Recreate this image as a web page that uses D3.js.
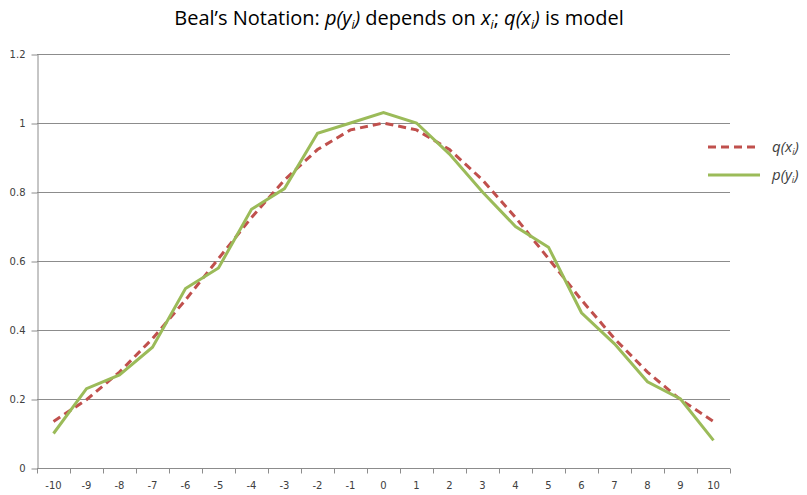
<!DOCTYPE html>
<html>
<head>
<meta charset="utf-8">
<script src="https://cdn.jsdelivr.net/npm/d3@7"></script>
<style>
  body { margin: 0; background: #fff; }
</style>
</head>
<body>
<div class="vis"></div>
<script>
// categories along x
var xCats = [-10, -9, -8, -7, -6, -5, -4, -3, -2, -1, 0, 1, 2, 3, 4, 5, 6, 7, 8, 9, 10];
// q(x_i) model, dashed red
var qValues = [0.135, 0.198, 0.278, 0.375, 0.487, 0.607, 0.726, 0.835, 0.923, 0.980, 1.0,
               0.980, 0.923, 0.835, 0.726, 0.607, 0.487, 0.375, 0.278, 0.198, 0.135];
// p(y_i) observed, green
var pValues = [0.10, 0.23, 0.27, 0.35, 0.52, 0.58, 0.75, 0.81, 0.97, 1.00, 1.03,
               1.00, 0.91, 0.80, 0.70, 0.64, 0.45, 0.36, 0.25, 0.20, 0.08];
var yTicks = [0, 0.2, 0.4, 0.6, 0.8, 1, 1.2];

(function(){
  var W = 807, H = 495;
  var m = {left: 37, right: 730, top: 54, bottom: 468};

  var svg = d3.select(".vis").append("svg")
    .attr("width", W).attr("height", H);

  var x = d3.scaleBand().domain(xCats).range([m.left, m.right]);
  var y = d3.scaleLinear().domain([0, 1.2]).range([m.bottom, m.top]);

  // gridlines
  svg.append("g").selectAll("line")
    .data(yTicks.slice(1))
    .enter().append("line")
      .attr("x1", m.left).attr("x2", m.right)
      .attr("y1", function(d){ return Math.round(y(d)) + 0.5; })
      .attr("y2", function(d){ return Math.round(y(d)) + 0.5; })
      .attr("stroke", "#8c8c8c").attr("stroke-width", 1);

  // y axis
  var yAxis = svg.append("g")
    .attr("transform", "translate(" + (m.left + 0.5) + ",0.5)")
    .call(d3.axisLeft(y).tickValues(yTicks).tickSize(6).tickSizeOuter(0).tickPadding(6)
      .tickFormat(function(d){ return d3.format("")(d); }));
  yAxis.select(".domain").attr("stroke", "#8c8c8c");
  yAxis.selectAll(".tick line").attr("stroke", "#8c8c8c");
  yAxis.selectAll("text").attr("font-family", "DejaVu Sans").attr("font-size", 10).attr("fill", "#404040");

  // x axis with ticks at band edges
  var xAxisG = svg.append("g").attr("transform", "translate(0," + (m.bottom + 0.5) + ")");
  xAxisG.append("line").attr("x1", m.left).attr("x2", m.right)
    .attr("stroke", "#8c8c8c");
  xAxisG.selectAll(".edge")
    .data(xCats.concat(["end"]))
    .enter().append("line")
      .attr("class", "edge")
      .attr("x1", function(d, i){ return Math.round(m.left + i * x.step()) + 0.5; })
      .attr("x2", function(d, i){ return Math.round(m.left + i * x.step()) + 0.5; })
      .attr("y1", 0).attr("y2", 5)
      .attr("stroke", "#8c8c8c");
  xAxisG.selectAll("text")
    .data(xCats)
    .enter().append("text")
      .attr("x", function(d){ return x(d) + x.bandwidth() / 2; })
      .attr("y", 20)
      .attr("text-anchor", "middle")
      .attr("font-family", "DejaVu Sans").attr("font-size", 10)
      .attr("fill", "#404040")
      .text(function(d){ return d; });

  var line = d3.line()
    .x(function(d, i){ return x(xCats[i]) + x.bandwidth() / 2; })
    .y(function(d){ return y(d); });

  svg.append("path").datum(qValues)
    .attr("d", line)
    .attr("fill", "none")
    .attr("stroke", "#C0504D")
    .attr("stroke-width", 3)
    .attr("stroke-dasharray", "8,5");

  svg.append("path").datum(pValues)
    .attr("d", line)
    .attr("fill", "none")
    .attr("stroke", "#9BBB59")
    .attr("stroke-width", 3);

  // title
  var title = svg.append("text")
    .attr("x", 399).attr("y", 25)
    .attr("text-anchor", "middle")
    .attr("font-family", "Open Sans").attr("font-size", 20)
    .attr("fill", "#000");
  title.append("tspan").text("Beal\u2019s Notation: ");
  title.append("tspan").attr("font-style", "italic").text("p(y");
  title.append("tspan").attr("font-style", "italic").attr("font-size", 12).attr("dy", 4).text("i");
  title.append("tspan").attr("font-style", "italic").attr("dy", -4).text(")");
  title.append("tspan").text(" depends on ");
  title.append("tspan").attr("font-style", "italic").text("x");
  title.append("tspan").attr("font-style", "italic").attr("font-size", 12).attr("dy", 4).text("i");
  title.append("tspan").attr("dy", -4).text("; ");
  title.append("tspan").attr("font-style", "italic").text("q(x");
  title.append("tspan").attr("font-style", "italic").attr("font-size", 12).attr("dy", 4).text("i");
  title.append("tspan").attr("font-style", "italic").attr("dy", -4).text(")");
  title.append("tspan").text(" is model");

  // legend
  var legendItems = [
    {name: "q", sub: "x", color: "#C0504D", dash: "8,5"},
    {name: "p", sub: "y", color: "#9BBB59", dash: null}
  ];
  var legend = svg.append("g").attr("transform", "translate(708,147)");
  legendItems.forEach(function(d, i){
    var g = legend.append("g").attr("transform", "translate(0," + (i * 28) + ")");
    g.append("line").attr("x1", 0).attr("x2", 52).attr("y1", 0).attr("y2", 0)
      .attr("stroke", d.color).attr("stroke-width", 3)
      .attr("stroke-dasharray", d.dash);
    var t = g.append("text").attr("x", 64).attr("y", 5)
      .attr("font-family", "Open Sans").attr("font-size", 15)
      .attr("font-style", "italic").attr("fill", "#404040");
    t.append("tspan").text(d.name + "(" + d.sub);
    t.append("tspan").attr("font-size", 9).attr("dy", 3).text("i");
    t.append("tspan").attr("dy", -3).text(")");
  });
})();
</script>
</body>
</html>
